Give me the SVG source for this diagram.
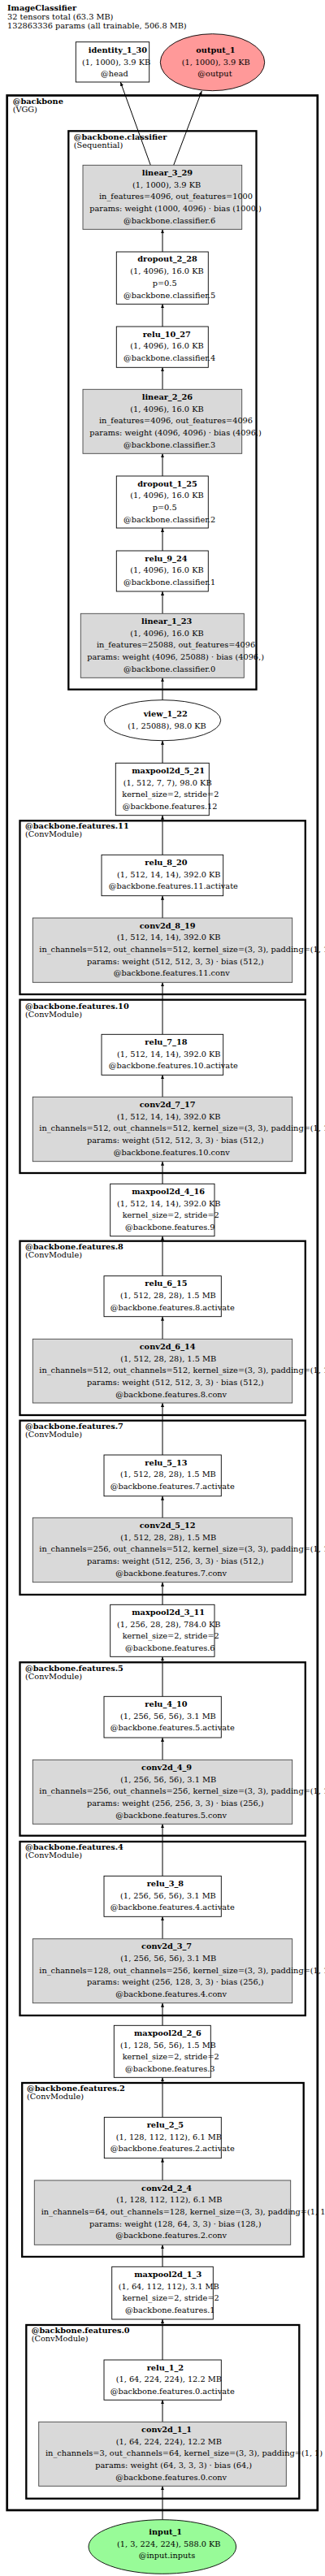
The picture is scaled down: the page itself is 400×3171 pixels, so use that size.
<svg xmlns="http://www.w3.org/2000/svg" width="400" height="3171" viewBox="0 0 400 3171">
<style>
text{font-family:"DejaVu Serif",serif;font-size:9.75px;fill:#000}
.b{font-weight:bold}
.n{fill:#fff;stroke:#000;stroke-width:0.9}
.g{fill:#d9d9d9;stroke:#444;stroke-width:0.9}
.cl{fill:none;stroke:#000;stroke-width:2.3}
.e{fill:none;stroke:#000;stroke-width:1;marker-end:url(#ah)}
</style>
<defs>
<marker id="ah" markerUnits="userSpaceOnUse" viewBox="0 0 5 4" markerWidth="5" markerHeight="4" refX="5" refY="2" orient="auto">
<path d="M0,0 L5,2 L0,4 z" fill="#000"/>
</marker>
</defs>
<rect x="0" y="0" width="400" height="3171" fill="#fff"/>
<g id="title">
<text class="b" x="9" y="13.3">ImageClassifier</text>
<text x="9" y="24.3">32 tensors total (63.3 MB)</text>
<text x="9" y="35">132863336 params (all trainable, 506.8 MB)</text>
</g>
<g id="clusters">
<g id="cluster_backbone"><rect class="cl" style="stroke-width:2.7" x="8.7" y="117.5" width="382.1" height="2972.5"/><text class="b" x="15.7" y="128.3">@backbone</text><text x="15.7" y="138.3">(VGG)</text></g>
<g id="cluster_classifier"><rect class="cl" x="84.3" y="161.3" width="231.2" height="687.4"/><text class="b" x="90.7" y="171.7">@backbone.classifier</text><text x="90.7" y="181.7">(Sequential)</text></g>
<g id="cluster_f11"><rect class="cl" x="24.5" y="1010.3" width="351.3" height="213.7"/><text class="b" x="31" y="1020">@backbone.features.11</text><text x="31" y="1030">(ConvModule)</text></g>
<g id="cluster_f10"><rect class="cl" x="24.5" y="1230.7" width="351.3" height="213.3"/><text class="b" x="31" y="1241.7">@backbone.features.10</text><text x="31" y="1251.7">(ConvModule)</text></g>
<g id="cluster_f8"><rect class="cl" x="24.5" y="1527.7" width="351.3" height="214.3"/><text class="b" x="31" y="1538.3">@backbone.features.8</text><text x="31" y="1548.3">(ConvModule)</text></g>
<g id="cluster_f7"><rect class="cl" x="24.5" y="1748.7" width="351.3" height="214.3"/><text class="b" x="31" y="1759">@backbone.features.7</text><text x="31" y="1769">(ConvModule)</text></g>
<g id="cluster_f5"><rect class="cl" x="24.5" y="2046.3" width="351.3" height="213.4"/><text class="b" x="31" y="2056.7">@backbone.features.5</text><text x="31" y="2066.7">(ConvModule)</text></g>
<g id="cluster_f4"><rect class="cl" x="24.5" y="2267" width="351.3" height="214"/><text class="b" x="31" y="2277.3">@backbone.features.4</text><text x="31" y="2287.3">(ConvModule)</text></g>
<g id="cluster_f2"><rect class="cl" x="27.2" y="2564" width="346.5" height="214"/><text class="b" x="33" y="2574.3">@backbone.features.2</text><text x="33" y="2584.3">(ConvModule)</text></g>
<g id="cluster_f0"><rect class="cl" x="32.3" y="2862" width="336" height="213.7"/><text class="b" x="38.7" y="2872.3">@backbone.features.0</text><text x="38.7" y="2882.3">(ConvModule)</text></g>
</g>
<g id="edges">
<line class="e" x1="185.3" y1="203.3" x2="148.3" y2="101"/>
<line class="e" x1="213.7" y1="203.3" x2="248.3" y2="112"/>
<line class="e" x1="200" y1="3101.7" x2="200" y2="3060.3"/>
<line class="e" x1="200" y1="2981.3" x2="200" y2="2954.3"/>
<line class="e" x1="200" y1="2905" x2="200" y2="2855"/>
<line class="e" x1="200" y1="2790.3" x2="200" y2="2763.3"/>
<line class="e" x1="200" y1="2684" x2="200" y2="2656.7"/>
<line class="e" x1="200" y1="2606.3" x2="200" y2="2557.3"/>
<line class="e" x1="200" y1="2493.3" x2="200" y2="2465.7"/>
<line class="e" x1="200" y1="2386.7" x2="200" y2="2359.3"/>
<line class="e" x1="200" y1="2309.3" x2="200" y2="2245.3"/>
<line class="e" x1="200" y1="2166.3" x2="200" y2="2139"/>
<line class="e" x1="200" y1="2088.3" x2="200" y2="2039.3"/>
<line class="e" x1="200" y1="1975.3" x2="200" y2="1947.7"/>
<line class="e" x1="200" y1="1868.3" x2="200" y2="1841.7"/>
<line class="e" x1="200" y1="1791" x2="200" y2="1727"/>
<line class="e" x1="200" y1="1648.3" x2="200" y2="1620.7"/>
<line class="e" x1="200" y1="1570.7" x2="200" y2="1521.7"/>
<line class="e" x1="200" y1="1457.3" x2="200" y2="1429.7"/>
<line class="e" x1="200" y1="1350.3" x2="200" y2="1323.3"/>
<line class="e" x1="200" y1="1273.3" x2="200" y2="1209.3"/>
<line class="e" x1="200" y1="1130" x2="200" y2="1102.7"/>
<line class="e" x1="200" y1="1052.3" x2="200" y2="1003.7"/>
<line class="e" x1="200" y1="939.3" x2="200" y2="911.7"/>
<line class="e" x1="200" y1="861.7" x2="200" y2="834.3"/>
<line class="e" x1="200" y1="755.3" x2="200" y2="728"/>
<line class="e" x1="200" y1="678" x2="200" y2="650"/>
<line class="e" x1="200" y1="586" x2="200" y2="558.3"/>
<line class="e" x1="200" y1="479.3" x2="200" y2="452.3"/>
<line class="e" x1="200" y1="402" x2="200" y2="374.3"/>
<line class="e" x1="200" y1="310" x2="200" y2="282.3"/>
</g>
<g id="identity_1_30"><rect class="n" x="93.3" y="51.7" width="90.4" height="49.3"/><text class="b" x="108.7" y="65">identity_1_30</text><text x="101" y="79.5">(1, 1000), 3.9 KB</text><text x="124" y="94">@head</text></g>
<g id="output_1"><ellipse cx="261.5" cy="76.7" rx="64.2" ry="35" fill="#ff9999" stroke="#000" stroke-width="0.9"/><text class="b" x="241.3" y="65">output_1</text><text x="223.7" y="79.5">(1, 1000), 3.9 KB</text><text x="243.3" y="94">@output</text></g>
<g id="linear_3_29"><rect class="g" x="102" y="203.3" width="195.7" height="79"/><text class="b" x="174.7" y="216">linear_3_29</text><text x="163" y="230.7">(1, 1000), 3.9 KB</text><text x="122" y="245.3">in_features=4096, out_features=1000</text><text x="110.3" y="260">params: weight (1000, 4096) · bias (1000,)</text><text x="152" y="274.5">@backbone.classifier.6</text></g>
<g id="dropout_2_28"><rect class="n" x="143.3" y="310" width="113" height="64.3"/><text class="b" x="169.3" y="322.3">dropout_2_28</text><text x="160.3" y="337.2">(1, 4096), 16.0 KB</text><text x="187.7" y="352">p=0.5</text><text x="152" y="366.7">@backbone.classifier.5</text></g>
<g id="relu_10_27"><rect class="n" x="143.3" y="402" width="113" height="50.3"/><text class="b" x="175.7" y="414.5">relu_10_27</text><text x="160.3" y="429.3">(1, 4096), 16.0 KB</text><text x="152" y="444">@backbone.classifier.4</text></g>
<g id="linear_2_26"><rect class="g" x="102" y="479.3" width="195.7" height="79"/><text class="b" x="174.7" y="491.8">linear_2_26</text><text x="160.3" y="506.5">(1, 4096), 16.0 KB</text><text x="122" y="521.2">in_features=4096, out_features=4096</text><text x="110.3" y="536">params: weight (4096, 4096) · bias (4096,)</text><text x="152" y="550.7">@backbone.classifier.3</text></g>
<g id="dropout_1_25"><rect class="n" x="143.3" y="586" width="113" height="64"/><text class="b" x="169.3" y="598.5">dropout_1_25</text><text x="160.3" y="613.2">(1, 4096), 16.0 KB</text><text x="187.7" y="628">p=0.5</text><text x="152" y="642.5">@backbone.classifier.2</text></g>
<g id="relu_9_24"><rect class="n" x="143.3" y="678" width="113" height="50"/><text class="b" x="178.3" y="690.5">relu_9_24</text><text x="160.3" y="705.3">(1, 4096), 16.0 KB</text><text x="152" y="720">@backbone.classifier.1</text></g>
<g id="linear_1_23"><rect class="g" x="99.3" y="755.3" width="201" height="79"/><text class="b" x="174" y="767.8">linear_1_23</text><text x="160.3" y="782.5">(1, 4096), 16.0 KB</text><text x="119" y="797.2">in_features=25088, out_features=4096</text><text x="107.3" y="811.9">params: weight (4096, 25088) · bias (4096,)</text><text x="152" y="826.6">@backbone.classifier.0</text></g>
<g id="view_1_22"><ellipse cx="200" cy="886.7" rx="71.7" ry="25" fill="#fff" stroke="#000" stroke-width="0.9"/><text class="b" x="176.7" y="881.7">view_1_22</text><text x="157.3" y="896.5">(1, 25088), 98.0 KB</text></g>
<g id="maxpool2d_5_21"><rect class="n" x="142.3" y="939.3" width="115" height="64.4"/><text class="b" x="162.3" y="951.8">maxpool2d_5_21</text><text x="151.7" y="966.5">(1, 512, 7, 7), 98.0 KB</text><text x="150.3" y="981.2">kernel_size=2, stride=2</text><text x="150.7" y="995.9">@backbone.features.12</text></g>
<g id="relu_8_20"><rect class="n" x="125" y="1052.3" width="149.7" height="50.4"/><text class="b" x="178.3" y="1064.8">relu_8_20</text><text x="144" y="1079.5">(1, 512, 14, 14), 392.0 KB</text><text x="133.7" y="1094.2">@backbone.features.11.activate</text></g>
<g id="conv2d_8_19"><rect class="g" x="40.3" y="1130" width="319.4" height="79.3"/><text class="b" x="171.7" y="1142.5">conv2d_8_19</text><text x="144" y="1157.2">(1, 512, 14, 14), 392.0 KB</text><text x="48.3" y="1171.9">in_channels=512, out_channels=512, kernel_size=(3, 3), padding=(1, 1)</text><text x="107" y="1186.6">params: weight (512, 512, 3, 3) · bias (512,)</text><text x="139.7" y="1201.3">@backbone.features.11.conv</text></g>
<g id="relu_7_18"><rect class="n" x="125" y="1273.3" width="149.7" height="50"/><text class="b" x="178.3" y="1285.8">relu_7_18</text><text x="144" y="1300.5">(1, 512, 14, 14), 392.0 KB</text><text x="133.7" y="1315.2">@backbone.features.10.activate</text></g>
<g id="conv2d_7_17"><rect class="g" x="40.3" y="1350.3" width="319.4" height="79.4"/><text class="b" x="171.7" y="1362.8">conv2d_7_17</text><text x="144" y="1377.5">(1, 512, 14, 14), 392.0 KB</text><text x="48.3" y="1392.2">in_channels=512, out_channels=512, kernel_size=(3, 3), padding=(1, 1)</text><text x="107" y="1406.9">params: weight (512, 512, 3, 3) · bias (512,)</text><text x="139.7" y="1421.6">@backbone.features.10.conv</text></g>
<g id="maxpool2d_4_16"><rect class="n" x="135.7" y="1457.3" width="128.3" height="64.4"/><text class="b" x="162.3" y="1469.8">maxpool2d_4_16</text><text x="144" y="1484.5">(1, 512, 14, 14), 392.0 KB</text><text x="150.7" y="1499.2">kernel_size=2, stride=2</text><text x="154" y="1513.9">@backbone.features.9</text></g>
<g id="relu_6_15"><rect class="n" x="128" y="1570.7" width="144.3" height="50"/><text class="b" x="178.3" y="1583.2">relu_6_15</text><text x="148" y="1597.9">(1, 512, 28, 28), 1.5 MB</text><text x="135.7" y="1612.6">@backbone.features.8.activate</text></g>
<g id="conv2d_6_14"><rect class="g" x="40.3" y="1648.3" width="319.4" height="78.7"/><text class="b" x="171.7" y="1660.8">conv2d_6_14</text><text x="148.3" y="1675.5">(1, 512, 28, 28), 1.5 MB</text><text x="48.3" y="1690.2">in_channels=512, out_channels=512, kernel_size=(3, 3), padding=(1, 1)</text><text x="107" y="1704.9">params: weight (512, 512, 3, 3) · bias (512,)</text><text x="142.3" y="1719.6">@backbone.features.8.conv</text></g>
<g id="relu_5_13"><rect class="n" x="128" y="1791" width="144.3" height="50.7"/><text class="b" x="178.3" y="1803.5">relu_5_13</text><text x="148" y="1818.2">(1, 512, 28, 28), 1.5 MB</text><text x="135.7" y="1832.9">@backbone.features.7.activate</text></g>
<g id="conv2d_5_12"><rect class="g" x="40.3" y="1868.3" width="319.4" height="79.4"/><text class="b" x="171.7" y="1880.8">conv2d_5_12</text><text x="148.3" y="1895.5">(1, 512, 28, 28), 1.5 MB</text><text x="48.3" y="1910.2">in_channels=256, out_channels=512, kernel_size=(3, 3), padding=(1, 1)</text><text x="107" y="1924.9">params: weight (512, 256, 3, 3) · bias (512,)</text><text x="142.3" y="1939.6">@backbone.features.7.conv</text></g>
<g id="maxpool2d_3_11"><rect class="n" x="135.7" y="1975.3" width="128.3" height="64"/><text class="b" x="162.3" y="1987.8">maxpool2d_3_11</text><text x="144" y="2002.5">(1, 256, 28, 28), 784.0 KB</text><text x="150.7" y="2017.2">kernel_size=2, stride=2</text><text x="154" y="2031.9">@backbone.features.6</text></g>
<g id="relu_4_10"><rect class="n" x="128" y="2088.3" width="144.3" height="50.7"/><text class="b" x="178.3" y="2100.8">relu_4_10</text><text x="148" y="2115.5">(1, 256, 56, 56), 3.1 MB</text><text x="135.7" y="2130.2">@backbone.features.5.activate</text></g>
<g id="conv2d_4_9"><rect class="g" x="40.3" y="2166.3" width="319.4" height="79"/><text class="b" x="174" y="2178.8">conv2d_4_9</text><text x="148.3" y="2193.5">(1, 256, 56, 56), 3.1 MB</text><text x="48.3" y="2208.2">in_channels=256, out_channels=256, kernel_size=(3, 3), padding=(1, 1)</text><text x="107" y="2222.9">params: weight (256, 256, 3, 3) · bias (256,)</text><text x="142.3" y="2237.6">@backbone.features.5.conv</text></g>
<g id="relu_3_8"><rect class="n" x="128" y="2309.3" width="144.3" height="50"/><text class="b" x="180.7" y="2321.8">relu_3_8</text><text x="148" y="2336.5">(1, 256, 56, 56), 3.1 MB</text><text x="135.7" y="2351.2">@backbone.features.4.activate</text></g>
<g id="conv2d_3_7"><rect class="g" x="40.3" y="2386.7" width="319.4" height="79"/><text class="b" x="174" y="2399.2">conv2d_3_7</text><text x="148.3" y="2413.9">(1, 256, 56, 56), 3.1 MB</text><text x="48.3" y="2428.6">in_channels=128, out_channels=256, kernel_size=(3, 3), padding=(1, 1)</text><text x="107" y="2443.3">params: weight (256, 128, 3, 3) · bias (256,)</text><text x="142.3" y="2458">@backbone.features.4.conv</text></g>
<g id="maxpool2d_2_6"><rect class="n" x="140.3" y="2493.3" width="119" height="64"/><text class="b" x="165" y="2505.8">maxpool2d_2_6</text><text x="148" y="2520.5">(1, 128, 56, 56), 1.5 MB</text><text x="150.7" y="2535.2">kernel_size=2, stride=2</text><text x="154" y="2549.9">@backbone.features.3</text></g>
<g id="relu_2_5"><rect class="n" x="128.3" y="2606.3" width="144" height="50.4"/><text class="b" x="180.7" y="2618.8">relu_2_5</text><text x="142.7" y="2633.5">(1, 128, 112, 112), 6.1 MB</text><text x="135.7" y="2648.2">@backbone.features.2.activate</text></g>
<g id="conv2d_2_4"><rect class="g" x="42.3" y="2684" width="315.4" height="79.3"/><text class="b" x="174" y="2696.5">conv2d_2_4</text><text x="143.3" y="2711.2">(1, 128, 112, 112), 6.1 MB</text><text x="50.7" y="2725.9">in_channels=64, out_channels=128, kernel_size=(3, 3), padding=(1, 1)</text><text x="110" y="2740.6">params: weight (128, 64, 3, 3) · bias (128,)</text><text x="142.3" y="2755.3">@backbone.features.2.conv</text></g>
<g id="maxpool2d_1_3"><rect class="n" x="137.7" y="2790.3" width="124.6" height="64.7"/><text class="b" x="165.3" y="2802.8">maxpool2d_1_3</text><text x="145.7" y="2817.5">(1, 64, 112, 112), 3.1 MB</text><text x="150.7" y="2832.2">kernel_size=2, stride=2</text><text x="154" y="2846.9">@backbone.features.1</text></g>
<g id="relu_1_2"><rect class="n" x="128" y="2905" width="144.3" height="49.3"/><text class="b" x="180.7" y="2917.5">relu_1_2</text><text x="142.7" y="2932.2">(1, 64, 224, 224), 12.2 MB</text><text x="135.7" y="2946.9">@backbone.features.0.activate</text></g>
<g id="conv2d_1_1"><rect class="g" x="47.7" y="2981.3" width="304.6" height="79"/><text class="b" x="174" y="2993.8">conv2d_1_1</text><text x="142.7" y="3008.5">(1, 64, 224, 224), 12.2 MB</text><text x="56" y="3023.2">in_channels=3, out_channels=64, kernel_size=(3, 3), padding=(1, 1)</text><text x="117.3" y="3037.9">params: weight (64, 3, 3, 3) · bias (64,)</text><text x="142.3" y="3052.6">@backbone.features.0.conv</text></g>
<g id="input_1"><ellipse cx="199.8" cy="3135" rx="90.8" ry="33.3" fill="#98fb98" stroke="#000" stroke-width="0.9"/><text class="b" x="183.3" y="3120">input_1</text><text x="144" y="3134.7">(1, 3, 224, 224), 588.0 KB</text><text x="170.7" y="3149.4">@input.inputs</text></g>
</svg>
